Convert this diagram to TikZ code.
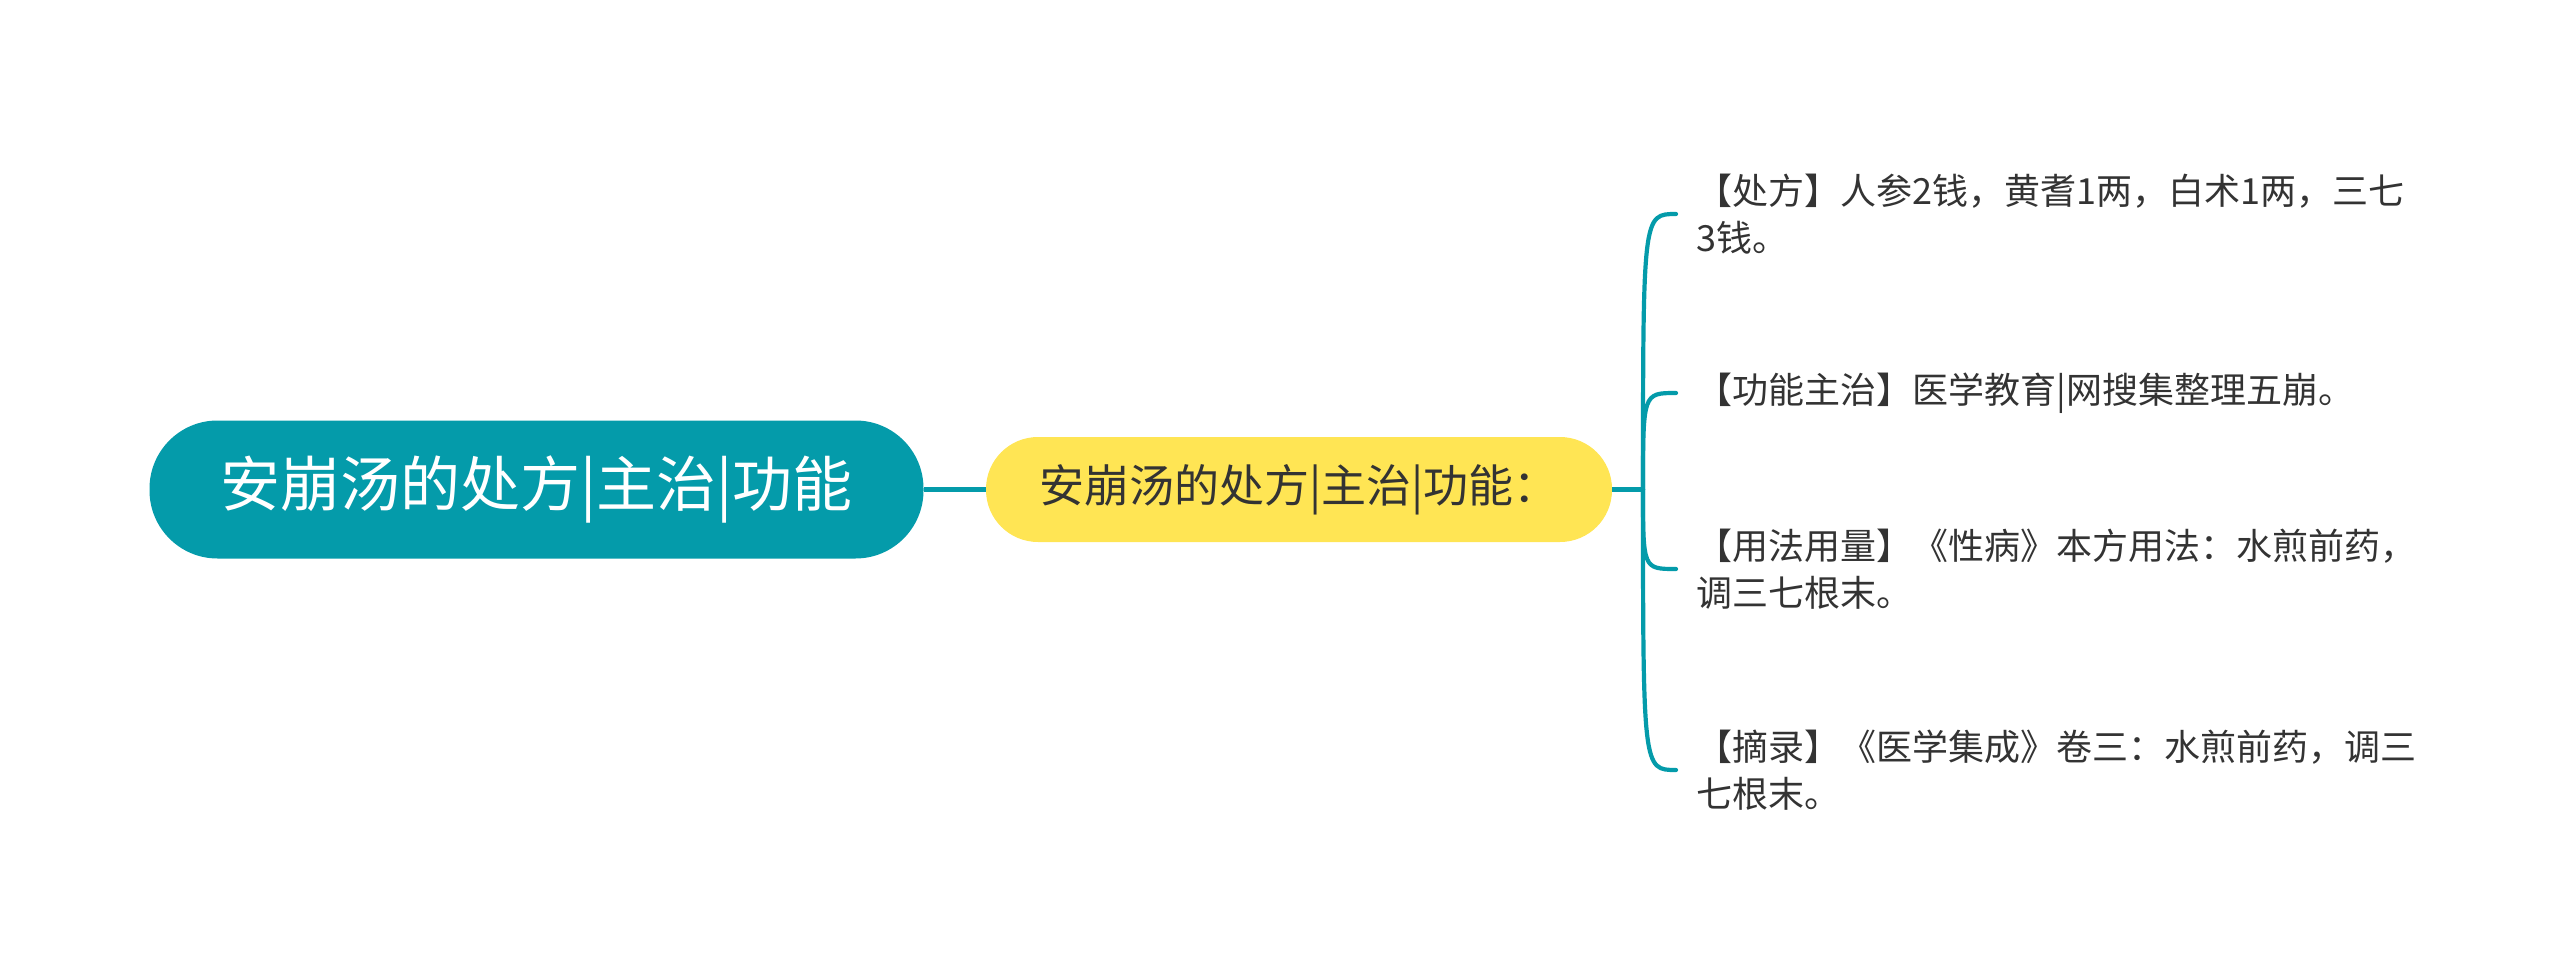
\documentclass[tikz,border=0pt]{standalone}
\usepackage{fontspec}
\setmainfont{Noto Sans CJK SC}
\definecolor{teal1}{RGB}{4,155,170}
\definecolor{yel1}{RGB}{255,229,84}
\definecolor{txt1}{RGB}{51,51,51}
\tikzset{
  rootbox/.style={fill=teal1, text=white, rounded corners=34pt, minimum width=387pt, minimum height=69pt, inner sep=0pt, font=\fontsize{30}{35}\selectfont},
  midbox/.style={fill=yel1, text=txt1, rounded corners=26pt, minimum width=313pt, minimum height=52.5pt, inner sep=0pt, font=\fontsize{22.5}{27}\selectfont},
  leafbox/.style={anchor=west, text=txt1, align=left, inner xsep=10pt, inner ysep=2pt, font=\fontsize{18}{23.5}\selectfont},
  link/.style={draw=teal1, line width=2.3pt},
  branch/.style={draw=teal1, line width=2.1pt, line cap=round}
}
\begin{document}
\begin{tikzpicture}[x=0.5pt,y=-0.5pt]
\useasboundingbox (0,0) rectangle (2560,979);
\node[rootbox] (root) at (536.5,489.5) {安崩汤的处方|主治|功能};
\node[midbox] (mid) at (1299,489.5) {安崩汤的处方|主治|功能：};
\coordinate (hub) at (1643,489.5);
\node[leafbox] (l1) at (1676,214) {【处方】人参2钱，黄耆1两，白术1两，三七\\3钱。};
\node[leafbox] (l2) at (1676,393) {【功能主治】医学教育|网搜集整理五崩。};
\node[leafbox] (l3) at (1676,569) {【用法用量】《性病》本方用法：水煎前药，\\调三七根末。};
\node[leafbox] (l4) at (1676,770) {【摘录】《医学集成》卷三：水煎前药，调三\\七根末。};
\draw[link] (root.east) -- (mid.west);
\draw[link] (mid.east) -- (hub);
\foreach \l in {l1,l2,l3,l4}{
  \draw[branch] (hub) .. controls (hub |- \l.west) .. (\l.west);
}
\end{tikzpicture}
\end{document}
